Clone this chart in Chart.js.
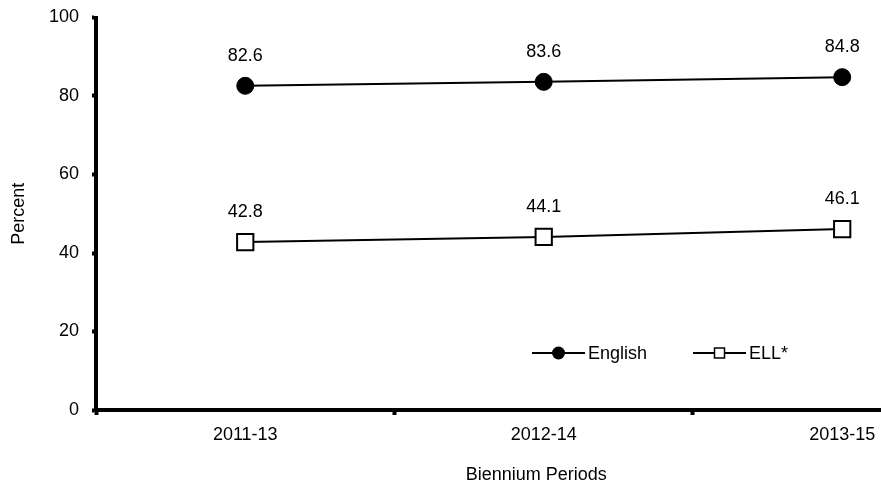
<!DOCTYPE html>
<html><head><meta charset="utf-8">
<script src="https://cdn.jsdelivr.net/npm/chart.js@4"></script>
<style>html,body{margin:0;padding:0;background:#fff}</style>
</head><body>
<canvas id="c" width="881" height="487"></canvas>
<script>
const categories = ['2011-13', '2012-14', '2013-15'];
const englishValues = [82.6, 83.6, 84.8];
const ellValues = [42.8, 44.1, 46.1];
const seriesNames = ['English', 'ELL*'];
const yTickValues = [0, 20, 40, 60, 80, 100];
const xTitle = 'Biennium Periods';
const yTitle = 'Percent';

const FONT = "'Liberation Sans', Arial, sans-serif";
const FS = 18;

const valueLabels = {
  id: 'valueLabels',
  afterDatasetsDraw(chart) {
    const ctx = chart.ctx;
    ctx.save();
    ctx.font = FS + 'px ' + FONT;
    ctx.fillStyle = '#000';
    ctx.textAlign = 'center';
    ctx.textBaseline = 'middle';
    chart.data.datasets.forEach((ds, i) => {
      chart.getDatasetMeta(i).data.forEach((el, j) => {
        ctx.fillText(ds.data[j].y.toFixed(1), el.x, el.y - 30);
      });
    });
    ctx.restore();
  }
};

const insideLegend = {
  id: 'insideLegend',
  afterDraw(chart, args, opts) {
    const ctx = chart.ctx;
    ctx.save();
    ctx.font = FS + 'px ' + FONT;
    ctx.textBaseline = 'middle';
    ctx.textAlign = 'left';
    chart.data.datasets.forEach((ds, i) => {
      const x = opts.items[i], y = opts.y, w = opts.lineWidth;
      ctx.strokeStyle = '#000';
      ctx.lineWidth = 2;
      ctx.beginPath(); ctx.moveTo(x, y); ctx.lineTo(x + w, y); ctx.stroke();
      const cx = x + w / 2;
      if (ds.pointStyle === 'circle') {
        ctx.fillStyle = '#000';
        ctx.beginPath(); ctx.arc(cx, y, 6.5, 0, Math.PI * 2); ctx.fill();
      } else {
        ctx.fillStyle = '#fff';
        ctx.fillRect(cx - 5, y - 5, 10, 10);
        ctx.lineWidth = 1.5;
        ctx.strokeRect(cx - 5, y - 5, 10, 10);
      }
      ctx.fillStyle = '#000';
      ctx.fillText(ds.label, x + w + 3, y + 1);
    });
    ctx.restore();
  }
};

// x-axis title centred under the full (partly cropped) category range
const xAxisTitle = {
  id: 'xAxisTitle',
  afterDraw(chart, args, opts) {
    const ctx = chart.ctx, xs = chart.scales.x;
    ctx.save();
    ctx.font = FS + 'px ' + FONT;
    ctx.fillStyle = '#000';
    ctx.textAlign = 'center';
    ctx.textBaseline = 'middle';
    ctx.fillText(xTitle, xs.getPixelForValue(opts.centerValue), opts.y);
    ctx.restore();
  }
};

new Chart(document.getElementById('c'), {
  type: 'line',
  data: {
    datasets: [
      {
        label: seriesNames[0],
        data: englishValues.map((v, i) => ({ x: i, y: v })),
        borderColor: '#000', borderWidth: 2,
        pointStyle: 'circle', pointRadius: 8.5, pointBorderWidth: 1,
        pointBackgroundColor: '#000', pointBorderColor: '#000'
      },
      {
        label: seriesNames[1],
        data: ellValues.map((v, i) => ({ x: i, y: v })),
        borderColor: '#000', borderWidth: 2,
        pointStyle: 'rect', pointRadius: 11.5, pointBorderWidth: 2,
        pointBackgroundColor: '#fff', pointBorderColor: '#000'
      }
    ]
  },
  options: {
    responsive: false,
    animation: false,
    devicePixelRatio: 1,
    layout: { autoPadding: false, padding: { top: 17.5, right: 0, left: 0, bottom: 0 } },
    plugins: {
      legend: { display: false },
      tooltip: { enabled: false },
      insideLegend: { items: [532, 693], y: 353, lineWidth: 53 },
      xAxisTitle: { centerValue: 0.975, y: 475 }
    },
    scales: {
      x: {
        type: 'linear', min: -0.5, max: 2.13,
        afterBuildTicks(scale) {
          scale.ticks = [-0.5, 0, 0.5, 1, 1.5, 2].map(v => ({ value: v }));
        },
        afterFit(scale) { scale.height = 77; scale.paddingLeft = 0; scale.paddingRight = 0; },
        border: { display: true, color: '#000', width: 4 },
        grid: {
          display: true, drawOnChartArea: false, drawTicks: true,
          tickLength: 5, tickWidth: 4,
          tickColor: (c) => (c.tick && Number.isInteger(c.tick.value)) ? 'rgba(0,0,0,0)' : '#000'
        },
        ticks: {
          autoSkip: false, maxRotation: 0, padding: 9,
          color: '#000', font: { family: FONT, size: FS },
          callback: (v) => Number.isInteger(v) ? categories[v] : ''
        }
      },
      y: {
        min: 0, max: 100,
        afterBuildTicks(scale) {
          scale.ticks = yTickValues.map(v => ({ value: v }));
        },
        afterFit(scale) { scale.width = 96; scale.paddingTop = 0; scale.paddingBottom = 0; },
        border: { display: true, color: '#000', width: 4 },
        grid: {
          display: true, drawOnChartArea: false, drawTicks: true,
          tickLength: 4, tickWidth: 4, tickColor: '#000'
        },
        ticks: { padding: 13, color: '#000', font: { family: FONT, size: FS } },
        title: {
          display: true, text: yTitle, color: '#000',
          font: { family: FONT, size: FS }, padding: { top: 8, bottom: 0 }
        }
      }
    }
  },
  plugins: [valueLabels, insideLegend, xAxisTitle]
});
</script>
</body></html>
